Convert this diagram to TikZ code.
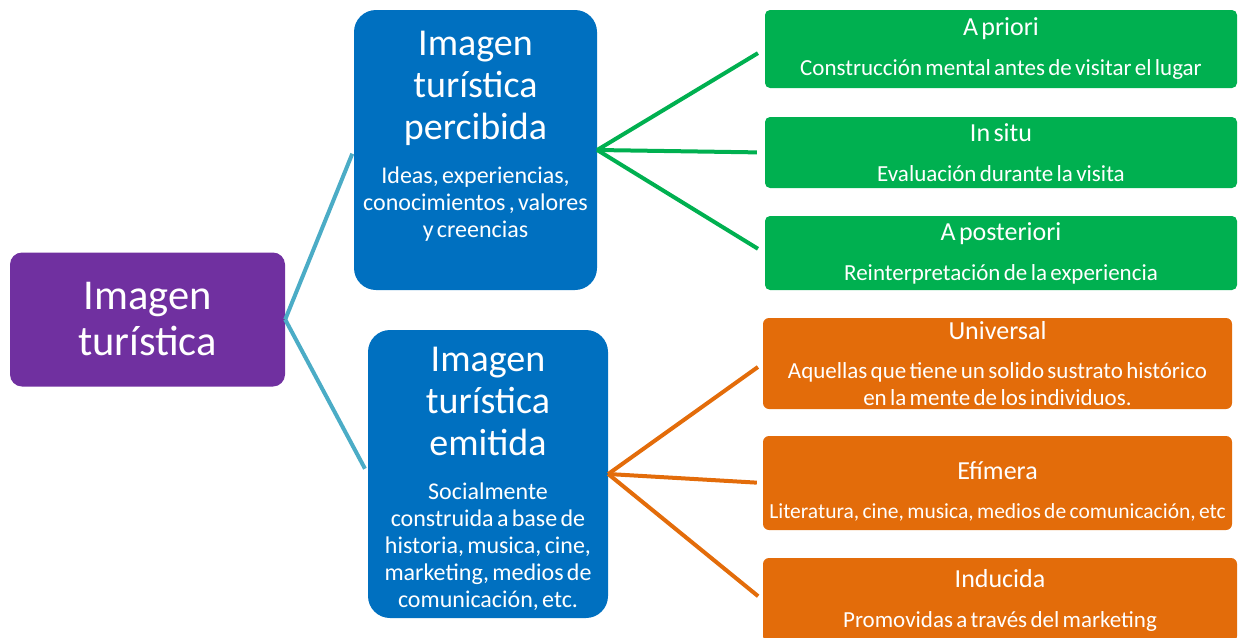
\documentclass[tikz,border=0pt]{standalone}
\usepackage{fontspec}
\setmainfont{Carlito}
\usepackage{tikz}

\definecolor{morado}{HTML}{7030A0}
\definecolor{azul}{HTML}{0070C0}
\definecolor{verde}{HTML}{00B050}
\definecolor{naranja}{HTML}{E36C0A}
\definecolor{celeste}{HTML}{4BACC6}

\tikzset{
  caja/.style={inner sep=0pt, text=white, align=center},
  raiz/.style={caja, fill=morado, rounded corners=12pt, minimum width=275pt, minimum height=134pt,
    text width=265pt, font=\fontsize{42.5}{46}\selectfont},
  rama/.style={caja, fill=azul, rounded corners=22pt, minimum width=243pt, text width=240pt},
  hojaverde/.style={caja, fill=verde, rounded corners=5pt, minimum width=472pt, text width=470pt},
  hojanaranja/.style={caja, fill=naranja, rounded corners=6pt, minimum width=469pt, text width=467pt},
  enlace/.style={line width=4pt, shorten >=6pt}
}
\newcommand{\grande}{\fontsize{38}{42}\selectfont}
\newcommand{\chico}{\fontsize{24}{27}\selectfont}
\newcommand{\titulo}{\fontsize{26}{28}\selectfont}
\newcommand{\texto}{\fontsize{23}{27}\selectfont}

\begin{document}
\begin{tikzpicture}[x=1pt, y=-1pt]
            \useasboundingbox (0,0) rectangle (1239,637);

            % nodo central
            \node[raiz] (imagen) at (147.5,319.5) {Imagen\\turística};

            % ramas
            \node[rama, minimum height=280pt] (percibida) at (475.5,150)
              {{\grande Imagen\\turística\\percibida\par}\vspace{17pt}%
               {\chico Ideas, experiencias,\\conocimientos , valores\\y creencias\par}\vspace{28pt}};
            \node[rama, minimum height=288pt, minimum width=240pt] (emitida) at (488,474)
              {{\grande Imagen\\turística\\emitida\par}\vspace{17pt}%
               {\chico Socialmente\\construida a base de\\historia, musica, cine,\\marketing, medios de\\comunicación, etc.\par}\vspace{-9pt}};

            % hojas verdes
            \node[hojaverde, minimum height=78pt] (apriori) at (1001,49)
              {{\titulo A priori\par}\vspace{13pt}{\texto Construcción mental antes de visitar el lugar\par}};
            \node[hojaverde, minimum height=71pt] (insitu) at (1001,152.5)
              {{\titulo In situ\par}\vspace{13pt}{\texto Evaluación durante la visita\par}};
            \node[hojaverde, minimum height=74pt] (aposteriori) at (1001,253)
              {{\titulo A posteriori\par}\vspace{13pt}{\texto Reinterpretación de la experiencia\par}};

            % hojas naranjas
            \node[hojanaranja, minimum height=91pt] (universal) at (997.5,363.5)
              {{\titulo Universal\par}\vspace{12pt}{\texto Aquellas que tiene un solido sustrato histórico\\en la mente de los individuos.\par}};
            \node[hojanaranja, minimum height=94pt] (efimera) at (997.5,483)
              {{\titulo Efímera\par}\vspace{12pt}{\fontsize{21.5}{27}\selectfont Literatura, cine, musica, medios de comunicación, etc\par}\vspace{-16pt}};
            \node[hojanaranja, minimum height=84pt, minimum width=474pt] (inducida) at (1000,600)
              {{\titulo Inducida\par}\vspace{13pt}{\texto Promovidas a través del marketing\par}};

            % conectores
            \draw[enlace, celeste, shorten >=4pt] (imagen.east) -- (percibida.west);
            \draw[enlace, celeste, shorten >=6pt] (imagen.east) -- (emitida.west);
            \draw[enlace, verde, shorten >=8pt] (percibida.east) -- (apriori.west);
            \draw[enlace, verde, shorten >=8pt] (percibida.east) -- (insitu.west);
            \draw[enlace, verde, shorten >=8pt] (percibida.east) -- (aposteriori.west);
            \draw[enlace, naranja, shorten >=6pt] (emitida.east) -- (universal.west);
            \draw[enlace, naranja, shorten >=6pt] (emitida.east) -- (efimera.west);
            \draw[enlace, naranja, shorten >=6pt] (emitida.east) -- (inducida.west);

            \end{tikzpicture}
\end{document}
